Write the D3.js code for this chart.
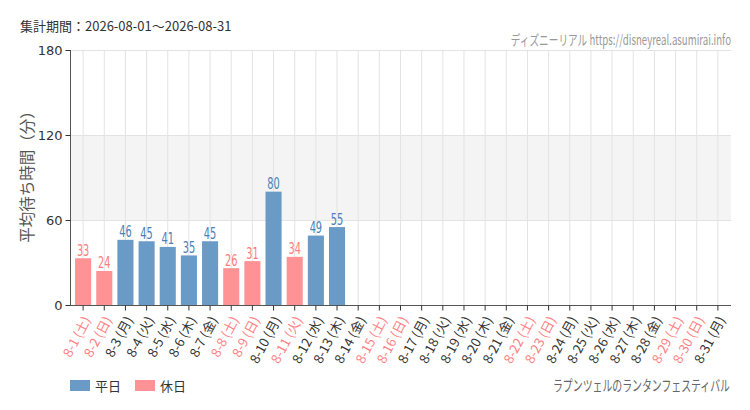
<!DOCTYPE html>
<html><head><meta charset="utf-8">
<script src="https://cdn.jsdelivr.net/npm/d3@7"></script>
<style>
body{margin:0;background:#fff;}
svg{display:block;}
</style></head>
<body>
<svg id="c" width="750" height="410"></svg>
<script>
const days = ["8-1","8-2","8-3","8-4","8-5","8-6","8-7","8-8","8-9","8-10","8-11","8-12","8-13","8-14","8-15","8-16","8-17","8-18","8-19","8-20","8-21","8-22","8-23","8-24","8-25","8-26","8-27","8-28","8-29","8-30","8-31"];
const weekdays = ["土","日","月","火","水","木","金","土","日","月","火","水","木","金","土","日","月","火","水","木","金","土","日","月","火","水","木","金","土","日","月"];
const holiday = [1,1,0,0,0,0,0,1,1,0,1,0,0,0,1,1,0,0,0,0,0,1,1,0,0,0,0,0,1,1,0];
const values = [33,24,46,45,41,35,45,26,31,80,34,49,55,null,null,null,null,null,null,null,null,null,null,null,null,null,null,null,null,null,null];
const yTicks = [0,60,120,180];
const legendLabels = ["平日","休日"];
const title = "集計期間：2026-08-01～2026-08-31";
const credit = "ディズニーリアル https://disneyreal.asumirai.info";
const subtitle = "ラプンツェルのランタンフェスティバル";

const blue = "#6a9ac6", pink = "#ff9295";
const blueText = "#4a80b8", pinkText = "#ff7a7d";
const jp = "'Noto Sans CJK JP','Noto Sans',sans-serif";
const cond = "'DejaVu Sans Condensed','DejaVu Sans',sans-serif";

const svg = d3.select("#c");
const x = d3.scaleBand().domain(days).range([70, 731]).padding(0.24);
const y = d3.scaleLinear().domain([0,180]).range([305, 50]);

function squeeze(sel, cx, s){ sel.attr("transform",`translate(${cx},0) scale(${s},1) translate(${-cx},0)`); }

// shaded band 60-120
svg.append("rect").attr("x",70).attr("width",661)
  .attr("y",y(120)).attr("height",y(60)-y(120)).attr("fill","#f3f4f3");

// vertical gridlines
svg.append("g").selectAll("line").data(days).join("line")
  .attr("x1",d=>x(d)+x.bandwidth()/2).attr("x2",d=>x(d)+x.bandwidth()/2)
  .attr("y1",y(180)).attr("y2",y(0)).attr("stroke","#e3e3e3").attr("stroke-width",1);
// horizontal gridlines
svg.append("g").selectAll("line").data(yTicks.slice(1)).join("line")
  .attr("x1",70).attr("x2",731).attr("y1",d=>y(d)+0.5).attr("y2",d=>y(d)+0.5)
  .attr("stroke","#e3e3e3");

// bars
const data = days.map((d,i)=>({d, v:values[i], h:holiday[i], w:weekdays[i]})).filter(o=>o.v!=null);
svg.append("g").selectAll("rect").data(data).join("rect")
  .attr("x",o=>x(o.d)).attr("width",x.bandwidth())
  .attr("y",o=>y(o.v)).attr("height",o=>y(0)-y(o.v))
  .attr("fill",o=>o.h?pink:blue);
svg.append("g").selectAll("text").data(data).join("text")
  .attr("x",o=>x(o.d)+x.bandwidth()/2).attr("y",o=>y(o.v)-2.5)
  .attr("text-anchor","middle").attr("font-family",cond).attr("font-size",16)
  .attr("fill",o=>o.h?pinkText:blueText)
  .attr("transform",o=>{const cx=x(o.d)+x.bandwidth()/2; return `translate(${cx},0) scale(0.68,1) translate(${-cx},0)`;})
  .text(o=>o.v);

// y axis
const ya = svg.append("g").attr("transform","translate(70.5,0)")
  .call(d3.axisLeft(y).tickValues(yTicks).tickSize(5).tickPadding(3));
ya.select(".domain").attr("stroke","#555").attr("d",`M0,${y(180)}V${y(0)}`);
ya.selectAll(".tick line").attr("stroke","#333");
ya.selectAll("text").attr("font-family","'DejaVu Sans',sans-serif").attr("font-size",13).attr("fill","#333");

// x axis
const xa = svg.append("g").attr("transform",`translate(0,${y(0)+0.5})`)
  .call(d3.axisBottom(x).tickSize(5).tickFormat(""));
xa.select(".domain").attr("stroke","#555").attr("d","M70,0H731");
xa.selectAll(".tick line").attr("stroke","#333");
xa.selectAll(".tick").each(function(d,i){
  d3.select(this).append("text")
    .attr("transform","translate(4,12) rotate(-62)")
    .attr("text-anchor","end").attr("dy","0.35em")
    .attr("font-family",jp).attr("font-size",13)
    .attr("fill",holiday[i]?"#ff7f82":"#333")
    .text(`${d} (${weekdays[i]})`);
});

// y label
svg.append("text").attr("transform","translate(33,173) rotate(-90)")
  .attr("text-anchor","middle").attr("font-family",jp).attr("font-size",15.5)
  .attr("fill","#555").text("平均待ち時間（分）");

// title
svg.append("text").attr("x",20).attr("y",31).attr("font-family",jp)
  .attr("font-size",13).attr("fill","#333").text(title);
svg.append("text").attr("x",731).attr("y",45).attr("text-anchor","end")
  .attr("font-family",jp).attr("font-size",14).attr("fill","#999")
  .call(s=>squeeze(s,731,0.69)).text(credit);

// legend
const lg = svg.append("g");
legendLabels.forEach((t,i)=>{
  const lx = 70 + i*65;
  lg.append("rect").attr("x",lx).attr("y",380).attr("width",20).attr("height",11).attr("fill",i?pink:blue);
  lg.append("text").attr("x",lx+25).attr("y",391).attr("font-family",jp).attr("font-size",13)
    .attr("fill","#333").text(t);
});
svg.append("text").attr("x",730).attr("y",391).attr("text-anchor","end")
  .attr("font-family",jp).attr("font-size",15).attr("fill","#666")
  .call(s=>squeeze(s,730,0.66)).text(subtitle);
</script>
</body></html>
